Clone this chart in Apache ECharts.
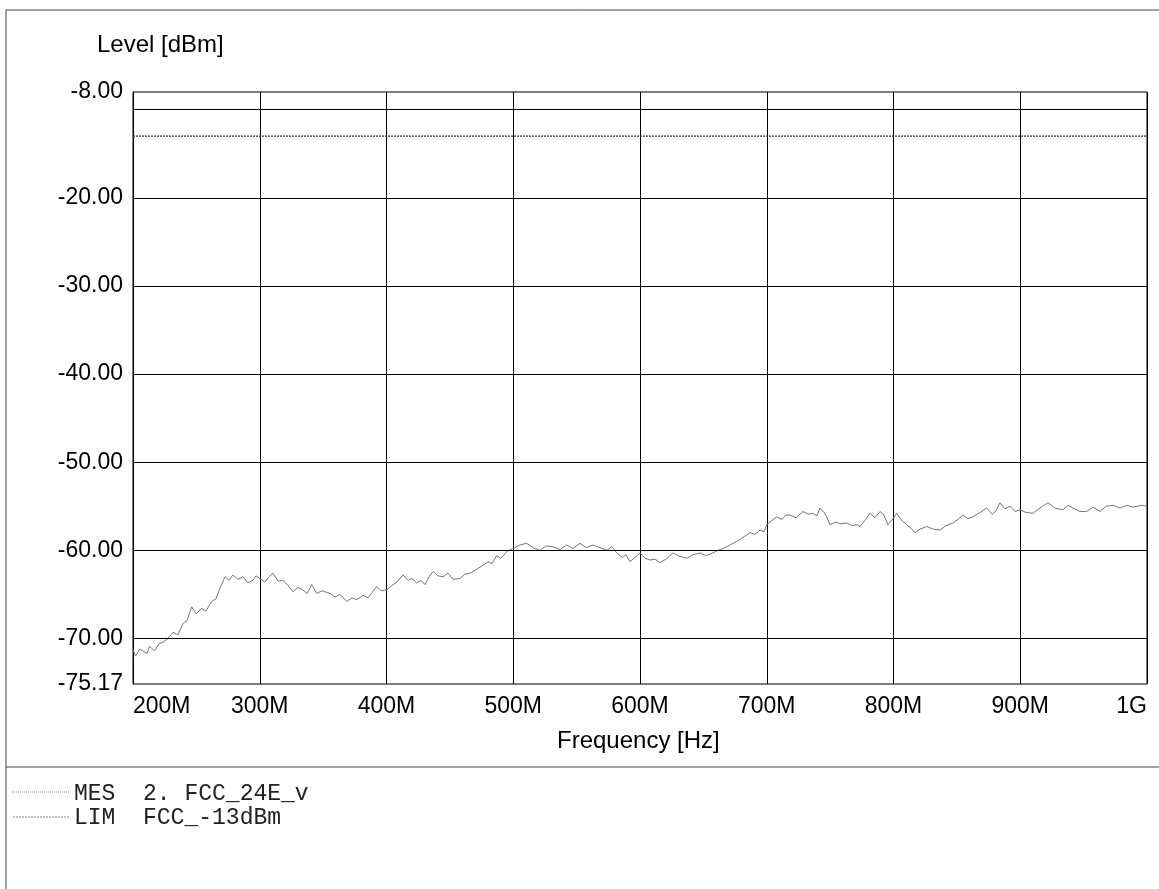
<!DOCTYPE html>
<html>
<head>
<meta charset="utf-8">
<script src="https://cdn.jsdelivr.net/npm/echarts@6/dist/echarts.min.js"></script>
<style>
html,body{margin:0;padding:0;background:#fff;}
#chart{width:1159px;height:889px;}
</style>
</head>
<body>
<div id="chart"></div>
<script>
// Frequency in MHz, level in dBm (MES 2. FCC_24E_v)
const mesFreq = [200,202,205.5,211,213,217,220.5,224,227.6,231.6,235.5,239.4,242.6,246.3,249.7,254.2,257.6,262,265.5,268.6,272.6,275.7,278.9,282.8,286.8,290.7,294.7,297,300.2,304,307.3,310.5,314.4,318.3,322.3,326.2,330.2,334.1,337.3,341,345,349,355.4,359.4,363.3,368.6,372.8,376.7,381.5,385.4,388.6,392.3,395.7,400.2,404.3,408.3,413,417,420.1,423.8,427.2,430.4,433.5,436.7,440.6,444.6,448.5,452.5,458,461.9,465.9,470.6,476.1,480.1,483.2,486.9,490.3,495.1,499.8,505.3,510.6,515.6,521.1,525.8,531.4,536.9,542.2,547.1,552.7,557.4,562.9,568.4,573.7,577.9,581.6,585.8,589,592.1,596.1,600,604,607.9,611.8,615.8,620.5,626,631.6,636.8,641.8,647.3,652,657.5,661.5,665.4,670.9,676.3,680.5,686.8,690.7,694.7,697.8,700,703.3,707.8,712,715.2,718.3,723.1,728.6,732.5,736.5,739.6,742,745.2,747.3,749.9,754.6,757.8,763.1,767.3,770.9,773.6,777.5,781.4,785.4,789.3,792.5,795.6,799.6,802.5,805.9,810.4,813.8,817,820.9,826.2,831.2,836.7,841.4,846.9,850.9,854.8,858.8,862.7,868.2,873.5,877.7,880.9,884,888,891.9,895.8,899.8,904.5,910,915.6,921.9,927.4,933.7,937.7,941.6,947.1,952.4,957.4,962.9,967.7,973.2,978.7,984,989,995.8,1000];
const mesLevel = [-71.3,-72.0,-71.2,-71.7,-70.9,-71.4,-70.6,-70.4,-70.0,-69.3,-69.6,-68.3,-68.0,-66.4,-67.2,-66.6,-66.9,-65.8,-65.5,-64.3,-63.0,-63.4,-62.8,-63.3,-63.0,-63.7,-63.4,-62.9,-63.2,-63.6,-63.0,-62.6,-63.5,-63.4,-64.0,-64.7,-64.2,-64.5,-64.9,-63.9,-64.9,-64.6,-64.9,-65.3,-65.0,-65.8,-65.4,-65.6,-65.1,-65.4,-64.8,-64.1,-64.6,-64.5,-64.0,-63.6,-62.8,-63.4,-63.2,-63.7,-63.4,-63.9,-63.0,-62.4,-62.9,-63.0,-62.6,-63.3,-63.2,-62.7,-62.6,-62.2,-61.7,-61.3,-61.5,-60.6,-60.9,-60.1,-59.8,-59.4,-59.2,-59.7,-60.0,-59.5,-59.6,-59.9,-59.4,-59.8,-59.2,-59.7,-59.4,-59.7,-60.0,-59.6,-60.3,-60.8,-60.5,-61.3,-60.8,-60.3,-60.9,-61.1,-61.0,-61.4,-61.0,-60.3,-60.7,-60.9,-60.5,-60.3,-60.6,-60.3,-60.0,-59.8,-59.4,-59.0,-58.6,-58.0,-58.2,-57.7,-57.9,-57.1,-56.7,-56.2,-56.5,-56.0,-56.0,-56.3,-55.6,-55.9,-55.8,-56.1,-55.2,-55.7,-56.2,-57.1,-56.8,-57.0,-56.9,-57.2,-57.1,-57.3,-56.6,-55.8,-56.3,-55.6,-56.0,-57.1,-56.4,-55.8,-56.5,-57.1,-57.5,-58.0,-57.6,-57.3,-57.6,-57.7,-57.2,-56.9,-56.5,-56.0,-56.4,-56.2,-55.7,-55.2,-55.9,-55.5,-54.6,-55.3,-55.0,-55.6,-55.4,-55.7,-55.8,-55.2,-54.6,-55.2,-55.4,-54.9,-55.2,-55.6,-55.6,-55.1,-55.6,-55.0,-54.9,-55.2,-54.9,-55.1,-54.9,-55.0];
// Limit line LIM FCC_-13dBm
const limFreq = [200, 1000];
const limLevel = [-13, -13];
// Axis ticks
const xTicks = [200,300,400,500,600,700,800,900,1000];
const yLabels = [-75.17,-70,-60,-50,-40,-30,-20,-8];
const yGrid = [-10,-20,-30,-40,-50,-60,-70];
const yMin = -75.17, yMax = -8;

const SANS = '"Liberation Sans", Arial, sans-serif';
const MONO = '"Liberation Mono", "Courier New", monospace';

const chart = echarts.init(document.getElementById('chart'), null, {renderer:'canvas'});
const mesData = mesFreq.map((f,i)=>[f, mesLevel[i]]);
const limData = limFreq.map((f,i)=>[f, limLevel[i]]);

chart.setOption({
  backgroundColor:'#fff',
  animation:false,
  grid:{left:133, top:92, right:12, bottom:205, show:true, borderColor:'#000', borderWidth:1, backgroundColor:'transparent'},
  xAxis:{
    type:'value', min:200, max:1000, interval:100,
    axisLine:{show:false}, axisTick:{show:false},
    splitLine:{show:true, lineStyle:{color:'#000', width:1}},
    axisLabel:{
      color:'#000', fontFamily:SANS, fontSize:23, margin:11,
      alignMinLabel:'left', alignMaxLabel:'right',
      formatter:v => v===1000 ? '1G' : v + 'M'
    }
  },
  yAxis:{
    type:'value', min:yMin, max:yMax,
    axisLine:{show:false}, axisTick:{show:false},
    splitLine:{show:false},
    axisLabel:{
      color:'#000', fontFamily:SANS, fontSize:23, margin:10,
      customValues:yLabels,
      formatter:v => Number(v).toFixed(2)
    }
  },
  series:[
    {
      type:'line', data:[], silent:true,
      markLine:{
        silent:true, symbol:'none', label:{show:false},
        lineStyle:{color:'#000', width:1, type:'solid'},
        data: yGrid.map(v=>({yAxis:v}))
      }
    },
    {
      name:'LIM', type:'line', data:limData, symbol:'none', silent:true,
      lineStyle:{color:'#333', width:1.2, type:[2,1]}
    },
    {
      name:'MES', type:'line', data:mesData, symbol:'none', silent:true,
      lineStyle:{color:'#777', width:1}
    }
  ],
  graphic:[
    {type:'line', shape:{x1:6, y1:10, x2:1159, y2:10}, style:{stroke:'#444', lineWidth:1}},
    {type:'line', shape:{x1:6, y1:10, x2:6, y2:889}, style:{stroke:'#444', lineWidth:1}},
    {type:'line', shape:{x1:6, y1:767, x2:1159, y2:767}, style:{stroke:'#444', lineWidth:1}},
    {type:'text', left:97, top:33, style:{text:'Level [dBm]', font:'24px ' + SANS, fill:'#000'}},
    {type:'text', left:557, top:729, style:{text:'Frequency [Hz]', font:'24px ' + SANS, fill:'#000'}},
    {type:'line', shape:{x1:12, y1:792, x2:70, y2:792}, style:{stroke:'#888', lineWidth:1, lineDash:[1,1]}},
    {type:'line', shape:{x1:13, y1:817, x2:70, y2:817}, style:{stroke:'#888', lineWidth:1, lineDash:[2,1]}},
    {type:'text', left:74, top:782, style:{text:'MES  2. FCC_24E_v', font:'23px ' + MONO, fill:'#222'}},
    {type:'text', left:74, top:806, style:{text:'LIM  FCC_-13dBm', font:'23px ' + MONO, fill:'#222'}}
  ]
});
</script>
</body>
</html>
